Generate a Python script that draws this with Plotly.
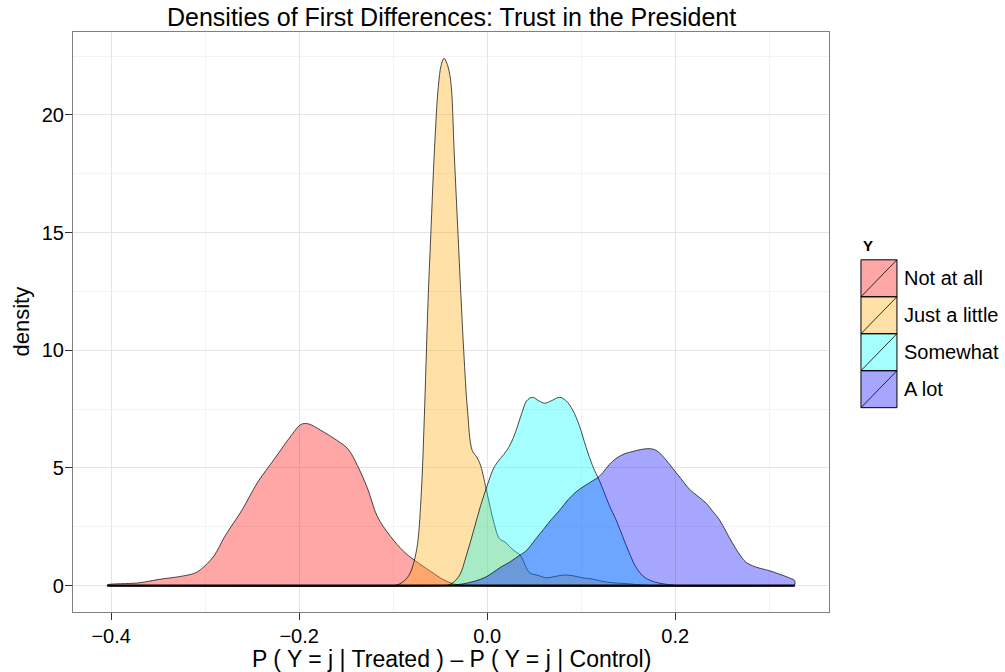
import plotly.graph_objects as go

# ---------------- data ----------------
categories = ["Not at all", "Just a little", "Somewhat", "A lot"]

x_not_at_all = [-0.404, -0.37, -0.35, -0.325, -0.31, -0.30, -0.29, -0.279, -0.261, -0.244,
                -0.226, -0.208, -0.198, -0.19, -0.177, -0.159, -0.148, -0.138, -0.127, -0.117,
                -0.103, -0.089, -0.078, -0.06, -0.045, -0.032, -0.02, 0.327]
d_not_at_all = [0.03, 0.12, 0.26, 0.4, 0.55, 0.85, 1.3, 2.1, 3.2, 4.4,
                5.4, 6.4, 6.85, 6.87, 6.6, 6.15, 5.8, 5.1, 4.1, 2.95,
                2.1, 1.46, 1.1, 0.6, 0.22, 0.04, 0.0, 0.0]

x_just_a_little = [-0.404, -0.11, -0.097, -0.09, -0.083, -0.078, -0.074, -0.070, -0.067, -0.063,
                   -0.060, -0.056, -0.052, -0.049, -0.046, -0.043, -0.039, -0.035, -0.031, -0.025,
                   -0.021, -0.016, -0.011, -0.007, 0.0, 0.007, 0.013, 0.019, 0.028, 0.035,
                   0.045, 0.053, 0.063, 0.070, 0.081, 0.091, 0.102, 0.112, 0.123, 0.134,
                   0.150, 0.165, 0.18, 0.327]
d_just_a_little = [0.0, 0.0, 0.02, 0.15, 0.45, 1.0, 1.8, 4.0, 7.0, 12.0,
                   14.9, 18.6, 21.2, 22.1, 22.4, 22.2, 21.5, 18.3, 14.9, 10.0,
                   7.5, 5.75, 5.45, 5.1, 3.9, 2.7, 2.0, 1.85, 1.5, 1.3,
                   0.55, 0.45, 0.33, 0.37, 0.45, 0.42, 0.33, 0.28, 0.18, 0.12,
                   0.08, 0.02, 0.0, 0.0]

x_somewhat = [-0.404, -0.05, -0.04, -0.03, -0.022, -0.014, -0.007, 0.0, 0.007, 0.014,
              0.021, 0.028, 0.037, 0.042, 0.048, 0.055, 0.061, 0.068, 0.077, 0.084,
              0.091, 0.098, 0.105, 0.112, 0.120, 0.130, 0.137, 0.144, 0.151, 0.158,
              0.166, 0.176, 0.190, 0.205, 0.327]
d_somewhat = [0.0, 0.0, 0.04, 0.4, 1.3, 2.4, 3.4, 4.25, 5.0, 5.4,
              5.75, 6.3, 7.35, 7.85, 8.0, 7.85, 7.75, 7.85, 8.0, 7.85,
              7.45, 6.8, 5.9, 5.1, 4.4, 3.4, 2.8, 2.1, 1.4, 0.8,
              0.4, 0.18, 0.06, 0.0, 0.0]

x_a_lot = [-0.404, -0.06, -0.045, -0.035, -0.025, -0.015, -0.007, 0.0, 0.007, 0.015,
           0.024, 0.033, 0.042, 0.051, 0.060, 0.068, 0.077, 0.086, 0.095, 0.104,
           0.112, 0.118, 0.123, 0.130, 0.137, 0.146, 0.155, 0.163, 0.172, 0.178,
           0.183, 0.190, 0.197, 0.206, 0.215, 0.224, 0.233, 0.240, 0.247, 0.254,
           0.261, 0.268, 0.275, 0.282, 0.289, 0.296, 0.303, 0.310, 0.317, 0.323, 0.327]
d_a_lot = [0.0, 0.0, 0.01, 0.03, 0.08, 0.17, 0.27, 0.4, 0.58, 0.8,
           1.0, 1.25, 1.5, 1.95, 2.4, 2.8, 3.2, 3.65, 4.0, 4.25,
           4.45, 4.6, 4.8, 5.15, 5.4, 5.6, 5.7, 5.78, 5.82, 5.78,
           5.65, 5.35, 5.0, 4.55, 4.1, 3.8, 3.5, 3.15, 2.8, 2.3,
           1.8, 1.35, 1.0, 0.85, 0.75, 0.68, 0.6, 0.5, 0.4, 0.3, 0.22]

x_tick_vals = [-0.4, -0.2, 0.0, 0.2]
x_tick_text = ["\u22120.4", "\u22120.2", "0.0", "0.2"]
x_minor_vals = [-0.3, -0.1, 0.1, 0.3]
y_tick_vals = [0, 5, 10, 15, 20]
y_tick_text = ["0", "5", "10", "15", "20"]
y_minor_vals = [2.5, 7.5, 12.5, 17.5, 22.5]

# ---------------- styles ----------------
fills = ["rgba(255,0,0,0.35)", "rgba(255,165,0,0.35)",
         "rgba(0,255,255,0.35)", "rgba(0,0,255,0.35)"]
FONT = "Liberation Sans, Arial, Helvetica, sans-serif"

series = [(x_not_at_all, d_not_at_all), (x_just_a_little, d_just_a_little),
          (x_somewhat, d_somewhat), (x_a_lot, d_a_lot)]

all_x = [v for xs, _ in series for v in xs]
all_y = [v for _, ys in series for v in ys]
xmin, xmax = min(all_x), max(all_x)
ymin, ymax = 0.0, max(all_y)
xpad = 0.05 * (xmax - xmin)
ypad = 0.05 * (ymax - ymin)

fig = go.Figure()
for name, (xs, ys), col in zip(categories, series, fills):
    # open path: baseline -> curve -> baseline ; fill closes it straight along y=0
    cx, cy = [], []
    for a, b in zip([xs[0]] + list(xs) + [xs[-1]], [0.0] + list(ys) + [0.0]):
        if cx and cx[-1] == a and cy[-1] == b:
            continue
        cx.append(a)
        cy.append(b)
    fig.add_trace(go.Scatter(
        x=cx, y=cy, mode="lines", fill="toself", fillcolor=col, name=name,
        line=dict(color="black", width=0.7, shape="spline", smoothing=1.0),
        showlegend=False, hoverinfo="skip"))

# shared outline along the baseline (each density polygon's bottom edge)
fig.add_trace(go.Scatter(x=[xmin, xmax], y=[0, 0], mode="lines",
                         line=dict(color="black", width=2.4),
                         showlegend=False, hoverinfo="skip"))

# panel pixel geometry
W, H = 1005, 672
L, R, T, B = 72.5, 829, 32, 612.5
pw, ph = R - L, B - T


def fx(px):
    return (px - L) / pw


def fy(py):
    return (B - py) / ph


axis_common = dict(
    showgrid=True, gridcolor="#e5e5e5", gridwidth=1,
    zeroline=False, showline=True, mirror=True, linecolor="#7f7f7f", linewidth=1.2,
    ticks="outside", ticklen=7, tickcolor="#333333", tickwidth=1,
    tickfont=dict(family=FONT, size=20, color="black"),
)

fig.update_layout(
    width=W, height=H,
    margin=dict(l=L, r=W - R, t=T, b=H - B),
    paper_bgcolor="white", plot_bgcolor="white",
    showlegend=False,
    xaxis=dict(range=[xmin - xpad, xmax + xpad], tickmode="array",
               tickvals=x_tick_vals, ticktext=x_tick_text, ticklabelstandoff=-1,
               minor=dict(tickvals=x_minor_vals, showgrid=True, gridcolor="#f3f3f3", ticks=""),
               **axis_common),
    yaxis=dict(range=[ymin - ypad, ymax + ypad], tickmode="array",
               tickvals=y_tick_vals, ticktext=y_tick_text, ticklabelstandoff=-3,
               minor=dict(tickvals=y_minor_vals, showgrid=True, gridcolor="#f3f3f3", ticks=""),
               **axis_common),
)

annotations = [
    dict(text="Densities of First Differences: Trust in the President",
         x=0.5, y=fy(16.5), xref="paper", yref="paper", showarrow=False,
         xanchor="center", yanchor="middle",
         font=dict(family=FONT, size=25, color="black")),
    dict(text="P ( Y = j | Treated ) \u2013 P ( Y = j | Control)",
         x=0.5, y=fy(659.5), xref="paper", yref="paper", showarrow=False,
         xanchor="center", yanchor="middle",
         font=dict(family=FONT, size=23, color="black")),
    dict(text="density", textangle=-90,
         x=fx(20), y=0.5, xref="paper", yref="paper", showarrow=False,
         xanchor="center", yanchor="middle",
         font=dict(family=FONT, size=22, color="black")),
    dict(text="<b>Y</b>", x=fx(861), y=fy(246), xref="paper", yref="paper",
         showarrow=False, xanchor="left", yanchor="middle",
         font=dict(family=FONT, size=15, color="black")),
]

shapes = []
box_x0, box_x1 = 861, 897
box_top, box_h = 260, 37
for i, (name, col) in enumerate(zip(categories, fills)):
    t = box_top + i * box_h
    b = t + box_h
    shapes.append(dict(type="rect", xref="paper", yref="paper",
                       x0=fx(box_x0), x1=fx(box_x1), y0=fy(b), y1=fy(t),
                       fillcolor=col, line=dict(color="black", width=1)))
    shapes.append(dict(type="line", xref="paper", yref="paper",
                       x0=fx(box_x0), x1=fx(box_x1), y0=fy(b), y1=fy(t),
                       line=dict(color="black", width=0.8)))
    annotations.append(dict(text=name, x=fx(902), y=fy((t + b) / 2),
                            xref="paper", yref="paper", showarrow=False,
                            xanchor="left", yanchor="middle",
                            font=dict(family=FONT, size=20, color="black")))

fig.update_layout(annotations=annotations, shapes=shapes)

fig.write_html("out.html", config={"displayModeBar": False},
               post_script="document.body.style.margin='0px';document.body.style.overflow='hidden';")
